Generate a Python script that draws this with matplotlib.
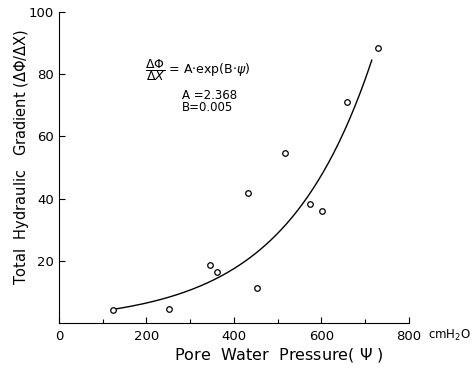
import numpy as np
import matplotlib.pyplot as plt
from matplotlib.ticker import MultipleLocator

# measured points: pore water pressure (cmH2O) vs total hydraulic gradient
psi = [123, 251, 345, 362, 432, 453, 517, 574, 601, 658, 729]
grad = [4.2, 4.5, 18.6, 16.4, 41.8, 11.3, 54.7, 38.3, 36.0, 71.0, 88.4]

# fitted curve dPhi/dX = A*exp(B*psi)
A = 2.368
B = 0.005
fit_range = [120, 715]

plt.rcParams['font.family'] = ['DejaVu Sans']

fig = plt.figure(figsize=(4.77, 3.77), dpi=100)
ax = fig.add_axes([0.1237, 0.1432, 0.7337, 0.825])

xs = np.linspace(fit_range[0], fit_range[1], 200)
ax.plot(xs, A * np.exp(B * xs), color='black', lw=1.0)
ax.plot(psi, grad, 'o', ms=4, mfc='white', mec='black', mew=0.9)

ax.set_xlim(0, 800)
ax.set_ylim(0, 100)
ax.set_xticks([0, 200, 400, 600, 800])
ax.xaxis.set_minor_locator(MultipleLocator(100))
ax.set_yticks([20, 40, 60, 80, 100])
ax.spines['top'].set_visible(False)
ax.spines['right'].set_visible(False)
ax.tick_params(direction='in', length=4, width=0.8, labelsize=9.5)
ax.tick_params(which='minor', direction='in', length=3, width=0.8)
ax.tick_params(axis='x', pad=5)

# unit next to the last x tick label, labels placed in figure coords
fig.text(428 / 477, 1 - 335 / 377, r'cmH$_2$O', fontsize=8.5, va='center', ha='left')
fig.text(279 / 477, 1 - 355 / 377, 'Pore  Water  Pressure( $\\Psi$ )',
         fontsize=11.5, ha='center', va='center')
fig.text(22 / 477, 1 - 157 / 377, 'Total  Hydraulic   Gradient ($\\Delta\\Phi$/$\\Delta$X)',
         fontsize=10.5, ha='center', va='center', rotation=90)

ax.text(197, 81.3, r'$\dfrac{\Delta\Phi}{\Delta X}$ = A$\cdot$exp(B$\cdot\psi$)', fontsize=9, va='center')
ax.text(281, 73.2, 'A =2.368', fontsize=8.5, va='center')
ax.text(281, 69.2, 'B=0.005', fontsize=8.5, va='center')

fig.savefig('out.png', dpi=100)
